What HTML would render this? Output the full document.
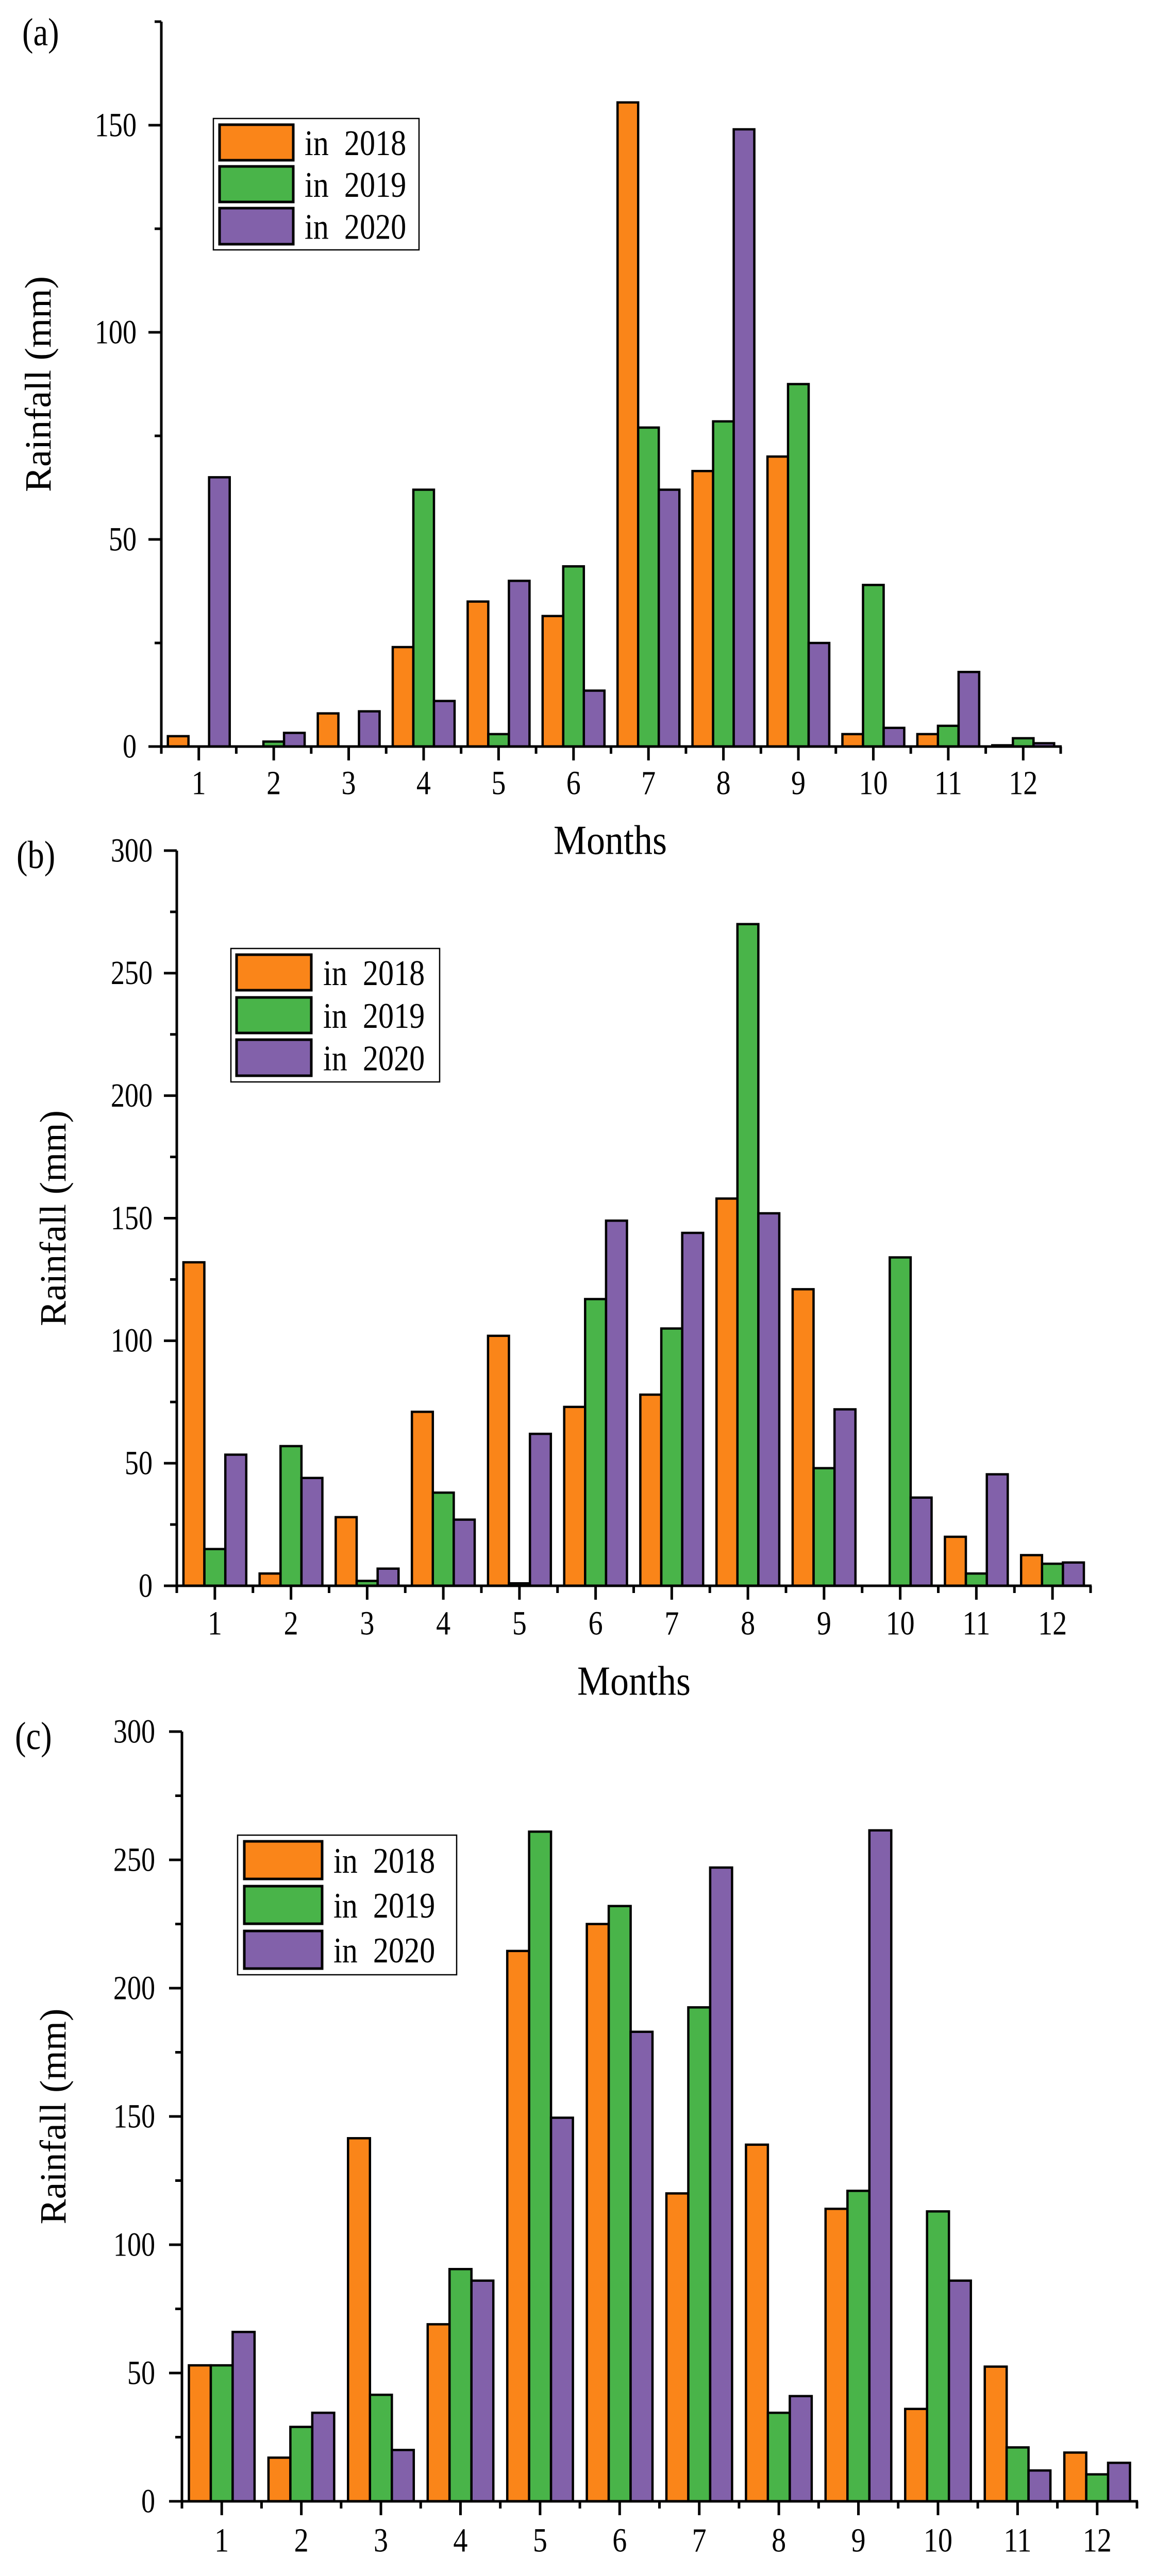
<!DOCTYPE html>
<html><head><meta charset="utf-8">
<style>
html,body{margin:0;padding:0;background:#fff;width:2241px;height:5105px;overflow:hidden;}
svg{display:block;position:absolute;left:0;top:0;}
text{font-family:"Liberation Serif","Times New Roman",serif;fill:#000;white-space:pre;}
</style></head>
<body>
<svg id="fig" width="2241" height="5105" viewBox="0 0 2241 5105" xmlns="http://www.w3.org/2000/svg"></svg>
<script>
const months = [1,2,3,4,5,6,7,8,9,10,11,12];
const seriesNames = ["in  2018","in  2019","in  2020"];
const a2018 = [2.5,0,8,24,35,31.5,155.5,66.5,70,3,3,0.3];
const a2019 = [0,1.2,0,62,3,43.5,77,78.5,87.5,39,5,2];
const a2020 = [65,3.3,8.5,11,40,13.5,62,149,25,4.5,18,0.8];
const b2018 = [132,5,28,71,102,73,78,158,121,0,20,12.5];
const b2019 = [15,57,2,38,1,117,105,270,48,134,5,9];
const b2020 = [53.5,44,7,27,62,149,144,152,72,36,45.5,9.5];
const c2018 = [53,17,141.5,69,214.5,225,120,139,114,36,52.5,19];
const c2019 = [53,29,41.5,90.5,261,232,192.5,34.5,121,113,21,10.5];
const c2020 = [66,34.5,20,86,149.5,183,247,41,261.5,86,12,15];
const aTicks = [0,50,100,150];
const bTicks = [0,50,100,150,200,250,300];
const cTicks = [0,50,100,150,200,250,300];
const colors = ["#FA8519","#49B449","#8261AA"];

const NS="http://www.w3.org/2000/svg";
const svg=document.getElementById('fig');
function el(tag,attrs,parent){const e=document.createElementNS(NS,tag);for(const k in attrs)e.setAttribute(k,attrs[k]);(parent||svg).appendChild(e);return e;}
function txt(parent,s,x,y,size,anchor,extra){
  const t=el('text',{transform:`translate(${x},${y}) ${extra||'scale(0.9,1)'}`,'font-size':size,'text-anchor':anchor||'start','dominant-baseline':'central'},parent);
  t.textContent=s;return t;
}

const panels=[
 {id:'a',label:'(a)',series:[a2018,a2019,a2020],ticks:aTicks,ymax:175,x0:313,x1:2058,yTop:42,y0:1449,
  tickRight:265,yTitleX:74,monthY:1520,titleX:1184,titleY:1631,labX:43,labY:63,
  leg:{x:414,y:230,w:399,h:255,sx:424,sw:147,rows:[[240,313],[321,394],[402,476]],tx:591}},
 {id:'b',label:'(b)',series:[b2018,b2019,b2020],ticks:bTicks,ymax:300,x0:343,x1:2116,yTop:1651,y0:3078,
  tickRight:296,yTitleX:103,monthY:3151,titleX:1230,titleY:3263,labX:32,labY:1660,
  leg:{x:448,y:1841,w:405,h:259,sx:457,sw:149,rows:[[1851,1924],[1934,2007],[2016,2090]],tx:627}},
 {id:'c',label:'(c)',series:[c2018,c2019,c2020],ticks:cTicks,ymax:300,x0:353,x1:2206,yTop:3361,y0:4855,
  tickRight:301,yTitleX:103,monthY:4931,titleX:1280,titleY:5050,labX:29,labY:3370,
  leg:{x:461,y:3562,w:425,h:271,sx:472,sw:155,rows:[[3572,3649],[3659,3736],[3746,3823]],tx:647}}
];

panels.forEach(p=>{
  const g=el('g',{});
  
  
  const sp=(p.x1-p.x0)/12;
  const xOf=m=>p.x0+(m-0.5)*sp;
  const yScale=v=>p.y0-(v/p.ymax)*(p.y0-p.yTop);
  const bw=sp*0.275;
  const bars=el('g',{},g);
  
  
  p.series.forEach((ser,si)=>{
    ser.forEach((v,i)=>{
      const cx=xOf(months[i]);
      const x=cx+(si-1.5)*bw;
      const yv=yScale(v);
      const r=el('rect',{x:x.toFixed(1),y:yv.toFixed(1),width:bw.toFixed(1),height:(p.y0-yv).toFixed(1),fill:colors[si],stroke:'#000','stroke-width':4.5},bars);
      
      
    });
  });
  const ax=el('g',{},g);
  
  
  el('line',{x1:p.x0,y1:p.yTop,x2:p.x0,y2:p.y0+2,stroke:'#000','stroke-width':5},ax);
  el('line',{x1:p.x0-2,y1:p.y0,x2:p.x1+2,y2:p.y0,stroke:'#000','stroke-width':5},ax);
  const step=p.ticks[1]-p.ticks[0];
  for(let v=0;v<=p.ymax+0.001;v+=step/2){
    const y=yScale(v);const major=Math.abs(v/step-Math.round(v/step))<1e-6;
    el('line',{x1:p.x0-(major?25:13),y1:y,x2:p.x0,y2:y,stroke:'#000','stroke-width':5},ax);
  }
  p.ticks.forEach(v=>{
    const t=txt(ax,String(v),p.tickRight,yScale(v),66,'end','scale(0.82,1)');
    
    
  });
  for(let k=0;k<=12;k++){const x=p.x0+k*sp;el('line',{x1:x,y1:p.y0,x2:x,y2:p.y0+14,stroke:'#000','stroke-width':5},ax);}
  months.forEach(m=>{
    const x=xOf(m);
    el('line',{x1:x,y1:p.y0,x2:x,y2:p.y0+27,stroke:'#000','stroke-width':5},ax);
    const t=txt(ax,String(m),x,p.monthY,66,'middle','scale(0.85,1)');
    
    
  });
  const xt=txt(g,'Months',p.titleX,p.titleY,80,'middle');
  
  
  const yt=txt(g,'Rainfall (mm)',p.yTitleX,(p.yTop+p.y0)/2,80,'middle','rotate(-90) scale(0.92,0.9)');
  
  
  const pl=txt(g,p.label,p.labX,p.labY,76,'start','scale(0.85,1)');
  
  
  const L=p.leg;
  const lg=el('g',{},g);
  
  
  el('rect',{x:L.x,y:L.y,width:L.w,height:L.h,fill:'#fff',stroke:'#000','stroke-width':2.5},lg);
  L.rows.forEach((r,i)=>{
    const e=el('g',{},lg);
    
    
    el('rect',{x:L.sx+2,y:r[0]+2,width:L.sw-4,height:r[1]-r[0]-4,fill:colors[i],stroke:'#000','stroke-width':5},e);
    txt(e,seriesNames[i],L.tx,(r[0]+r[1])/2+2,70,'start','scale(0.86,1)');
  });
});
</script>
</body></html>
